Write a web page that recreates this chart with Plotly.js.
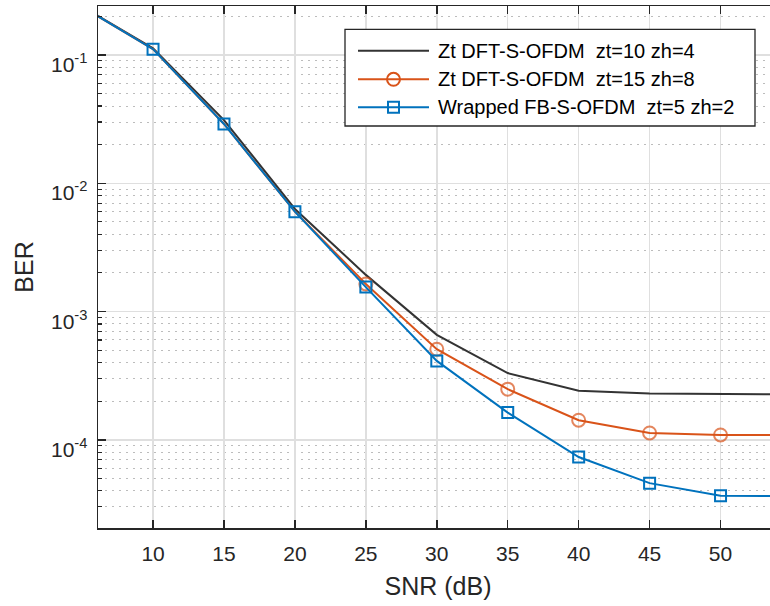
<!DOCTYPE html>
<html>
<head>
<meta charset="utf-8">
<script src="https://cdn.plot.ly/plotly-3.0.1.min.js"></script>
<style>html,body{margin:0;padding:0;overflow:hidden;background:#fff;}</style>
</head>
<body>
<div id="chart"></div>
<script>
// SNR (dB)
const snr = [5, 10, 15, 20, 25, 30, 35, 40, 45, 50, 55];
// BER values
const berDft10 = [0.238, 0.113, 0.0311, 0.0063, 0.00193, 0.000658, 0.000331, 0.000241, 0.000229, 0.000226, 0.000226];
const berDft15 = [0.238, 0.111, 0.0290, 0.0060, 0.00164, 0.000508, 0.000248, 0.000142, 0.000113, 0.000109, 0.000109];
const berWfb   = [0.238, 0.111, 0.0290, 0.0060, 0.00155, 0.000412, 0.000163, 0.0000733, 0.0000459, 0.0000366, 0.0000364];
const seriesNames = [
  'Zt DFT-S-OFDM\u00a0 zt=10 zh=4',
  'Zt DFT-S-OFDM\u00a0 zt=15 zh=8',
  'Wrapped FB-S-OFDM\u00a0 zt=5 zh=2'
];
const seriesColors = ['#333333', '#D95319', '#0072BD'];
const yTickVals = [1e-4, 1e-3, 1e-2, 1e-1];
const yTickText = ['10<sup>-4</sup>', '10<sup>-3</sup>', '10<sup>-2</sup>', '10<sup>-1</sup>'];
const xTickVals = [10, 15, 20, 25, 30, 35, 40, 45, 50];

const minorVals = [];
for (let e = -5; e <= -1; e++) for (let m = 2; m <= 9; m++) minorVals.push(m * Math.pow(10, e));

const FONT = 'Liberation Sans, Arial, Helvetica, sans-serif';
const axisCol = '#262626';

// plot area in pixels: left 98, top 6, width 680, height 522
const PL = 98, PT = 6, PW = 680, PH = 522;
const px = v => (v - PL) / PW;
const py = v => 1 - (v - PT) / PH;

const traces = [
  {x: snr, y: berDft10, name: seriesNames[0], mode: 'lines',
   line: {color: seriesColors[0], width: 2}},
  {x: snr, y: berDft15, name: seriesNames[1], mode: 'lines+markers',
   line: {color: seriesColors[1], width: 2},
   marker: {symbol: 'circle-open', size: snr.map((v, i) => i < 4 ? 0 : 13), color: seriesColors[1], line: {width: 2, color: seriesColors[1]}}},
  {x: snr, y: berWfb, name: seriesNames[2], mode: 'lines+markers',
   line: {color: seriesColors[2], width: 2},
   marker: {symbol: 'square-open', size: 11, color: seriesColors[2], line: {width: 2, color: seriesColors[2]}}}
];

// legend drawn as shapes + text
const legRows = [50.7, 79.3, 107.3];
const shapes = [
  {type: 'rect', xref: 'paper', yref: 'paper', x0: px(345), x1: px(755), y0: py(29.3), y1: py(126),
   fillcolor: '#ffffff', line: {color: axisCol, width: 1.3}, layer: 'above'}
];
const annotations = [];
seriesNames.forEach((n, i) => {
  shapes.push({type: 'line', xref: 'paper', yref: 'paper', x0: px(358), x1: px(429), y0: py(legRows[i]), y1: py(legRows[i]),
    line: {color: seriesColors[i], width: 2}, layer: 'above'});
  annotations.push({text: n, xref: 'paper', yref: 'paper', x: px(436), y: py(legRows[i]), xanchor: 'left', yanchor: 'middle',
    showarrow: false, font: {family: FONT, size: 20, color: '#000000'}});
});
shapes.push({type: 'circle', xref: 'paper', yref: 'paper', x0: px(393.5 - 6.5), x1: px(393.5 + 6.5), y0: py(legRows[1] - 6.5), y1: py(legRows[1] + 6.5),
  line: {color: seriesColors[1], width: 2}, layer: 'above'});
shapes.push({type: 'rect', xref: 'paper', yref: 'paper', x0: px(393.5 - 5.5), x1: px(393.5 + 5.5), y0: py(legRows[2] - 5.5), y1: py(legRows[2] + 5.5),
  line: {color: seriesColors[2], width: 2}, layer: 'above'});

// y tick labels (log axis)
yTickVals.forEach((v, i) => {
  annotations.push({text: yTickText[i], xref: 'paper', yref: 'y', x: 0, y: Math.log10(v), xanchor: 'right', yanchor: 'middle',
    xshift: -9, yshift: -8, showarrow: false, font: {family: FONT, size: 21, color: axisCol}});
});

const layout = {
  width: 778, height: 606,
  margin: {l: PL, r: 0, t: PT, b: 606 - PT - PH},
  paper_bgcolor: '#ffffff', plot_bgcolor: '#ffffff',
  font: {family: FONT, color: axisCol, size: 20},
  showlegend: false,
  shapes: shapes,
  annotations: annotations,
  xaxis: {
    range: [6.12, 54.05], tickmode: 'array', tickvals: xTickVals,
    ticks: 'inside', ticklen: 8, tickwidth: 1.5, tickcolor: axisCol, ticklabelstandoff: 6,
    showline: true, linecolor: axisCol, linewidth: 1.5, mirror: 'ticks',
    showgrid: true, gridcolor: '#dfdfdf', gridwidth: 1.5, zeroline: false,
    tickfont: {family: FONT, size: 21, color: axisCol},
    title: {text: 'SNR (dB)', font: {family: FONT, size: 25, color: axisCol}, standoff: 14}
  },
  yaxis: {
    type: 'log', range: [-4.688, -0.618], tickmode: 'array', tickvals: yTickVals, ticktext: yTickText,
    showticklabels: false,
    ticks: 'inside', ticklen: 8, tickwidth: 1.5, tickcolor: axisCol,
    showline: true, linecolor: axisCol, linewidth: 1.5, mirror: 'ticks',
    showgrid: true, gridcolor: '#dfdfdf', gridwidth: 1.5, zeroline: false,
    minor: {tickmode: 'array', tickvals: minorVals, ticks: 'inside', ticklen: 4, tickcolor: axisCol, tickwidth: 1.2,
            showgrid: true, gridcolor: '#bcbcbc', gridwidth: 1, griddash: '2px,5px'},
    title: {text: 'BER', font: {family: FONT, size: 25, color: axisCol}, standoff: 56}
  }
};

Plotly.newPlot('chart', traces, layout, {staticPlot: true, displayModeBar: false});
</script>
</body>
</html>
